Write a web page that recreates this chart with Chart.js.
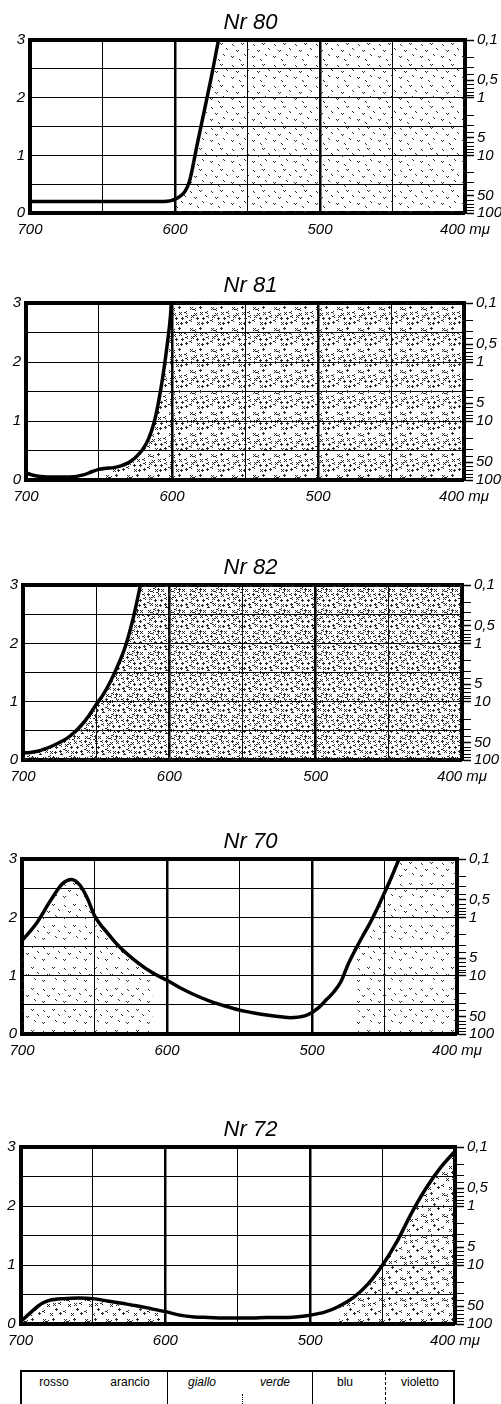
<!DOCTYPE html>
<html>
<head>
<meta charset="utf-8">
<script src="https://cdn.jsdelivr.net/npm/chart.js@4.4.1/dist/chart.umd.min.js"></script>
<style>
  html, body { margin: 0; padding: 0; background: #fff; }
  body { position: relative; width: 501px; height: 1404px; overflow: hidden; }
  canvas.panel { position: absolute; left: 0; }
  #bands { position: absolute; top: 1370px; left: 20px; width: 435px; height: 60px;
           border: 2px solid #000; border-bottom: none; box-sizing: border-box; }
  #bands .lbl { position: absolute; top: 3px; font: 12px "Liberation Sans", Arial, sans-serif;
                color: #000; transform: translateX(-50%); white-space: nowrap; }
  #bands .div { position: absolute; top: 0; bottom: 0; width: 0; }
</style>
</head>
<body>
<div id="bands"></div>
<script>
// ---------------- DATA ----------------
const panelTitles = ['Nr 80', 'Nr 81', 'Nr 82', 'Nr 70', 'Nr 72'];

// density values above 3 are off the top of the chart (curve leaves the frame)
const nr80Wavelength = [700, 650, 610, 602, 597, 593, 590, 585, 580, 575, 570, 566, 400];
const nr80Density    = [0.2, 0.2, 0.2, 0.22, 0.28, 0.38, 0.55, 1.15, 1.75, 2.35, 3.0, 3.5, 3.5];

const nr81Wavelength = [700, 695, 690, 680, 670, 660, 655, 650, 645, 640, 635, 630, 625, 620, 616, 612, 609, 606, 603, 601, 600, 599, 400];
const nr81Density    = [0.12, 0.08, 0.06, 0.05, 0.05, 0.09, 0.14, 0.18, 0.2, 0.21, 0.24, 0.29, 0.38, 0.52, 0.7, 1.0, 1.35, 1.8, 2.35, 2.8, 3.2, 3.6, 3.6];

const nr82Wavelength = [700, 695, 690, 685, 680, 675, 670, 665, 660, 655, 650, 645, 640, 635, 630, 625, 621, 619, 617, 400];
const nr82Density    = [0.12, 0.13, 0.15, 0.19, 0.24, 0.3, 0.37, 0.47, 0.6, 0.76, 0.95, 1.13, 1.36, 1.63, 1.95, 2.4, 2.85, 3.1, 3.4, 3.4];

const nr70Wavelength = [700, 690, 680, 672, 666, 660, 655, 650, 640, 633, 620, 610, 600, 590, 580, 570, 560, 550, 540, 530, 520, 515, 505, 500, 495, 490, 485, 480, 475, 470, 465, 460, 455, 450, 445, 440, 435, 400];
const nr70Density    = [1.6, 1.9, 2.3, 2.58, 2.65, 2.55, 2.33, 2.03, 1.7, 1.5, 1.22, 1.05, 0.92, 0.78, 0.66, 0.56, 0.48, 0.41, 0.36, 0.32, 0.29, 0.28, 0.31, 0.37, 0.46, 0.59, 0.72, 0.9, 1.2, 1.45, 1.68, 1.9, 2.15, 2.42, 2.7, 3.0, 3.3, 3.3];

const nr72Wavelength = [700, 695, 690, 685, 680, 670, 660, 650, 640, 630, 620, 610, 600, 590, 580, 570, 560, 550, 540, 530, 520, 510, 500, 490, 480, 470, 460, 450, 440, 430, 420, 410, 400];
const nr72Density    = [0.04, 0.15, 0.26, 0.35, 0.4, 0.43, 0.44, 0.43, 0.39, 0.35, 0.31, 0.26, 0.21, 0.15, 0.12, 0.11, 0.1, 0.1, 0.1, 0.11, 0.11, 0.12, 0.15, 0.2, 0.3, 0.45, 0.68, 1.0, 1.4, 1.88, 2.3, 2.65, 2.93];

const waveTickValues = [700, 650, 600, 550, 500, 450, 400];
const waveTickLabels = ['700', '', '600', '', '500', '', '400 mμ'];
const densityTickValues = [0, 0.5, 1, 1.5, 2, 2.5, 3];
const densityTickLabels = ['0', '', '1', '', '2', '', '3'];
const transmissionMajor = [0.1, 0.5, 1, 5, 10, 50, 100];
const transmissionMajorLabels = ['0,1', '0,5', '1', '5', '10', '50', '100'];
const transmissionMinor = [0.2, 0.3, 0.4, 0.6, 0.7, 0.8, 0.9, 2, 3, 4, 6, 7, 8, 9, 20, 30, 40, 60, 70, 80, 90];
const spectrumBands = ['rosso', 'arancio', 'giallo', 'verde', 'blu', 'violetto'];

const seriesWavelengths = [nr80Wavelength, nr81Wavelength, nr82Wavelength, nr70Wavelength, nr72Wavelength];
const seriesDensities   = [nr80Density, nr81Density, nr82Density, nr70Density, nr72Density];

// ---------------- STYLE / LAYOUT ----------------
const FONT = '"Liberation Sans", Arial, sans-serif';
const frames = [
  { areaTop: 40,   areaBottom: 213,  left: 30, right: 465, marks: 7,  mark: 2, gap: [700, 602] },
  { areaTop: 303,  areaBottom: 480,  left: 26, right: 464, marks: 14, mark: 3, gap: [700, 650] },
  { areaTop: 585,  areaBottom: 760,  left: 23, right: 462, marks: 20, mark: 3, gap: null },
  { areaTop: 859,  areaBottom: 1034, left: 22, right: 457, marks: 6,  mark: 2, gap: [610, 470] },
  { areaTop: 1147, areaBottom: 1324, left: 18, right: 455, marks: 10, mark: 3, gap: [600, 480] }
];
const stippleSpots = [[1,2],[10,1],[16,6],[5,8],[13,12],[0,14],[8,17],[17,16],[4,3],[11,7],
                      [7,12],[17,10],[2,10],[12,17],[6,0],[14,2],[0,6],[9,4],[3,16],[18,19]];

function makeStipple(ctx, count, size) {
  const tile = document.createElement('canvas');
  tile.width = 21; tile.height = 21;
  const g = tile.getContext('2d');
  g.fillStyle = '#2a2a2a';
  stippleSpots.slice(0, count).forEach(([x, y], k) => {
    if (size <= 2) {
      g.fillRect(x, y, 1, 1);
      g.fillRect(x + 1, y + 1, 1, 1);
      if (k % 2) g.fillRect(x + 2, y, 1, 1);
    } else if (k % 3 === 0) {          // small "x"
      g.fillRect(x, y, 1, 1); g.fillRect(x + 2, y, 1, 1);
      g.fillRect(x + 1, y + 1, 1, 1);
      g.fillRect(x, y + 2, 1, 1); g.fillRect(x + 2, y + 2, 1, 1);
    } else if (k % 3 === 1) {          // diamond
      g.fillRect(x + 1, y, 1, 1); g.fillRect(x, y + 1, 3, 1); g.fillRect(x + 1, y + 2, 1, 1);
    } else {                            // "<" mark
      g.fillRect(x + 2, y, 1, 1); g.fillRect(x, y + 1, 2, 1); g.fillRect(x + 2, y + 2, 1, 1);
    }
  });
  return ctx.createPattern(tile, 'repeat');
}

const tickFont = { family: FONT, size: 15, style: 'italic', weight: 'normal' };

panelTitles.forEach((title, p) => {
  const f = frames[p];
  const canvas = document.createElement('canvas');
  canvas.className = 'panel';
  const h = (f.areaBottom - f.areaTop) + 40 + 34;
  canvas.width = 501; canvas.height = h;
  canvas.style.top = (f.areaTop - 40) + 'px';
  document.body.appendChild(canvas);
  const ctx = canvas.getContext('2d');

  const points = seriesWavelengths[p].map((w, i) => ({ x: w, y: seriesDensities[p][i] }));
  const stipple = makeStipple(ctx, f.marks, f.mark);

  new Chart(ctx, {
    type: 'line',
    data: {
      datasets: [{
        data: points,
        borderColor: '#000',
        borderWidth: 3.5,
        pointRadius: 0,
        tension: 0.4,
        cubicInterpolationMode: 'monotone',
        borderCapStyle: 'round',
        borderJoinStyle: 'round',
        fill: 'origin',
        backgroundColor: stipple,
        segment: {
          backgroundColor: c => {
            if (!f.gap) return stipple;
            const a = c.p0.parsed.x, b = c.p1.parsed.x;
            return (a <= f.gap[0] && b >= f.gap[1]) ? 'rgba(255,255,255,0)' : stipple;
          }
        }
      }]
    },
    options: {
      responsive: false,
      animation: false,
      events: [],
      layout: { padding: 0 },
      plugins: {
        legend: { display: false },
        tooltip: { enabled: false },
        title: {
          display: true, text: title, color: '#000',
          font: { family: FONT, size: 22, style: 'italic', weight: 'normal' },
          padding: { top: 10, bottom: 3.6 }
        }
      },
      scales: {
        x: {
          type: 'linear', position: 'bottom', min: 400, max: 700, reverse: true,
          afterBuildTicks: s => { s.ticks = waveTickValues.map((v, i) => ({ value: v, txt: waveTickLabels[i] })); },
          afterFit: s => { s.height = 34; },
          ticks: { autoSkip: false, maxRotation: 0, padding: 8, color: '#000', font: tickFont,
                   callback: (v, i, t) => t[i].txt },
          grid: { drawTicks: false, color: '#000',
                  lineWidth: c => { const v = c.tick ? c.tick.value : null;
                                    return (v === 700 || v === 400) ? 0 : (v === 600 || v === 500) ? 2.5 : 1; } },
          border: { display: true, color: '#000', width: 4 }
        },
        xTop: {
          type: 'linear', position: 'top', min: 400, max: 700, reverse: true,
          afterFit: s => { s.height = 0; },
          ticks: { display: false },
          grid: { display: false, drawTicks: false },
          border: { display: true, color: '#000', width: 4 }
        },
        y: {
          type: 'linear', position: 'left', min: 0, max: 3,
          afterBuildTicks: s => { s.ticks = densityTickValues.map((v, i) => ({ value: v, txt: densityTickLabels[i] })); },
          afterFit: s => { s.width = f.left; },
          ticks: { autoSkip: false, padding: 5, color: '#000', font: tickFont,
                   callback: (v, i, t) => t[i].txt },
          grid: { drawTicks: false, color: '#000',
                  lineWidth: c => { const v = c.tick ? c.tick.value : null; return (v === 0 || v === 3) ? 0 : 1; } },
          border: { display: true, color: '#000', width: 4 }
        },
        y2: {
          type: 'linear', position: 'right', min: 0, max: 3,
          afterBuildTicks: s => {
            const major = transmissionMajor.map((t, i) => ({ value: Math.min(3, 2 - Math.log10(t)), txt: transmissionMajorLabels[i] }));
            const minor = transmissionMinor.map(t => ({ value: 2 - Math.log10(t), txt: '' }));
            s.ticks = major.concat(minor).sort((a, b) => a.value - b.value);
          },
          afterFit: s => { s.width = 501 - f.right; },
          ticks: { autoSkip: false, padding: 3, color: '#000', font: tickFont,
                   callback: (v, i, t) => t[i].txt },
          grid: { drawOnChartArea: false, drawTicks: true, tickLength: 9, tickColor: '#000',
                  tickWidth: c => (c.tick && c.tick.txt) ? 1.5 : 1 },
          border: { display: true, color: '#000', width: 4 }
        }
      }
    }
  });
});

// ---------------- spectrum band strip ----------------
const bandBox = document.getElementById('bands');
const bandCenters = [32, 108, 180, 253, 323, 398];
spectrumBands.forEach((name, i) => {
  const el = document.createElement('div');
  el.className = 'lbl';
  el.textContent = name;
  el.style.left = bandCenters[i] + 'px';
  if (name === 'giallo' || name === 'verde') el.style.fontStyle = 'italic';
  bandBox.appendChild(el);
});
[[145, 'solid'], [290, 'solid'], [363, 'dashed']].forEach(([x, st]) => {
  const d = document.createElement('div');
  d.className = 'div';
  d.style.left = x + 'px';
  d.style.borderLeft = '1.5px ' + st + ' #000';
  bandBox.appendChild(d);
});
const dot = document.createElement('div');
dot.className = 'div';
dot.style.left = '220px';
dot.style.top = '22px';
dot.style.borderLeft = '1px dotted #000';
bandBox.appendChild(dot);
</script>
</body>
</html>
